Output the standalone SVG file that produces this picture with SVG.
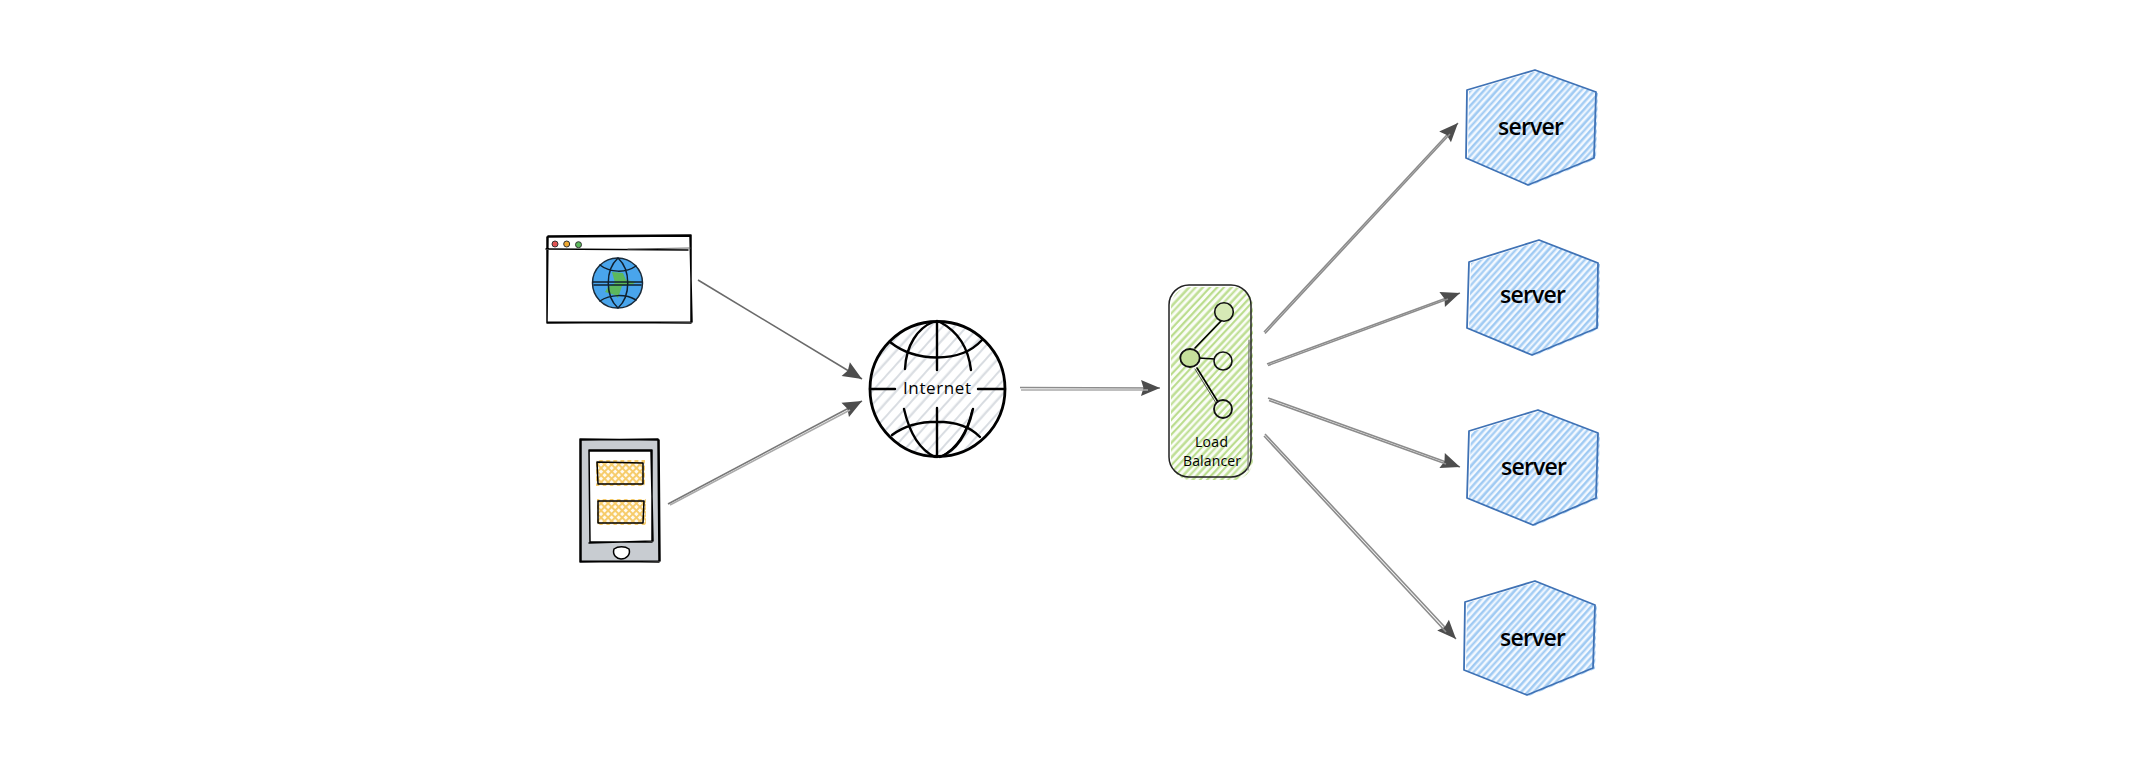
<svg xmlns="http://www.w3.org/2000/svg" width="2136" height="758" viewBox="0 0 2136 758">
<defs>
<pattern id="hBlue" width="40" height="29" patternUnits="userSpaceOnUse" patternTransform="rotate(-48)"><rect width="40" height="29" fill="#f4f9ff"/><g fill="#9fcaf3"><rect y="0" width="40" height="2.5"/><rect y="4.6" width="40" height="2.1"/><rect y="9.4" width="40" height="2.7"/><rect y="14.4" width="40" height="2.1"/><rect y="19" width="40" height="2.5"/><rect y="24.2" width="40" height="2.3"/></g></pattern>
<pattern id="hGreen" width="40" height="31" patternUnits="userSpaceOnUse" patternTransform="rotate(-47)"><rect width="40" height="31" fill="#fbfdf7"/><g fill="#bbdd8e"><rect y="0" width="40" height="2.3"/><rect y="5" width="40" height="2.1"/><rect y="10.4" width="40" height="2.4"/><rect y="15.4" width="40" height="2"/><rect y="20.4" width="40" height="2.4"/><rect y="25.8" width="40" height="2.2"/></g></pattern>
<pattern id="hGray" width="40" height="27" patternUnits="userSpaceOnUse" patternTransform="rotate(-48)"><rect width="40" height="27" fill="#fff"/><g fill="#d8dce1"><rect y="0" width="40" height="2"/><rect y="8.6" width="40" height="2.2"/><rect y="18" width="40" height="1.9"/></g></pattern>
<pattern id="hOrange" width="5" height="5" patternUnits="userSpaceOnUse" patternTransform="rotate(45)"><rect width="5" height="5" fill="#fffaf0"/><rect width="5" height="1.9" fill="#f6cb68"/><rect width="1.9" height="5" fill="#f6cb68"/></pattern>
<marker id="ah" viewBox="0 0 20 18" refX="20" refY="9" markerWidth="20" markerHeight="18" markerUnits="userSpaceOnUse" orient="auto"><path d="M20 9 L1 1 L3.5 9 L1 17 Z" fill="#4d4d4d"/></marker>
</defs>
<style>
.ln{fill:none;stroke:#000;stroke-linecap:round;stroke-linejoin:round}
.hf{fill:url(#hBlue)}
.hex{fill:none;stroke:#3f72b5;stroke-width:1.8;stroke-linejoin:round}
.t{font-family:"Open Sans","Noto Sans",sans-serif;fill:#000;text-anchor:middle}
.srv{font-size:23px;font-weight:600}
.con{fill:none;stroke:#8c8c8c;stroke-width:1.6}
.end{marker-end:url(#ah)}
</style>
<g id="connectors">
<path class="con end" style="stroke:#6a6a6a;stroke-width:1.6" d="M698 280 L862 379"/>
<path class="con end" style="stroke:#777" d="M668 504 L862 401"/>
<path class="con" style="stroke:#aaa" d="M670 505 L850 410"/>
<path class="con end" d="M1020 387.5 L1160 388"/>
<path class="con" style="stroke:#aaa" d="M1021 390 L1148 390"/>
<path class="con end" d="M1264 332 L1458 123"/>
<path class="con" d="M1265 333.5 L1450 134"/>
<path class="con end" d="M1267 364 L1460 293"/>
<path class="con" d="M1268 365.5 L1448 299"/>
<path class="con end" d="M1268 398 L1460 467"/>
<path class="con" d="M1269 400.5 L1446 464"/>
<path class="con end" d="M1265 434 L1456 639"/>
<path class="con" d="M1264 436 L1446 632"/>
</g>
<g id="browser">
<path class="ln" stroke-width="1.5" d="M548 236 L691 235 L691 323 L547 322 Z M547 237 L690 236 L692 322 L547 323 Z M546 249 L688 250"/>
<path class="ln" style="stroke:#666" stroke-width="1.2" d="M628 249 L690 248"/>
<circle cx="555" cy="244" r="3" fill="#e05252" stroke="#333"/>
<circle cx="566.7" cy="244" r="3" fill="#f0a830" stroke="#333"/>
<circle cx="578.5" cy="244.7" r="3" fill="#5cb85c" stroke="#333"/>
<circle cx="617.5" cy="283" r="25" fill="#49a5ec"/>
<path d="M612 272 L623 273 L626 280 L636 282 L633 284 L622 286 L618 298 L615 295 L605 292 L608 287 L615 283 Z" fill="#5cb85c"/>
<circle class="ln" style="stroke:#1a2b3a" stroke-width="1.5" cx="617.5" cy="283" r="25"/>
<path class="ln" style="stroke:#10202e" stroke-width="1.5" d="M618 258 C605 270 605 296 618 308 C631 296 631 270 618 258 M593 282 L642 282 M594 285 L641 285 M600 265 C610 273 626 273 636 266 M600 301 C610 294 626 294 636 300"/>
</g>
<g id="tablet">
<rect x="580" y="439" width="79" height="123" fill="#c8ccd1"/>
<rect x="590" y="450" width="62" height="92" fill="#fff"/>
<path class="ln" stroke-width="1.5" d="M580 439 L659 440 L660 561 L580 562 Z M581 440 L658 439 L659 562 L581 561 Z M589 450 L652 450 L652 542 L590 542 Z M590 451 L651 451 L653 541 L589 543"/>
<rect x="596" y="460" width="49" height="26" fill="url(#hOrange)"/>
<rect x="597" y="499" width="49" height="26" fill="url(#hOrange)"/>
<path class="ln" stroke-width="1.5" d="M597 462 L643 463 L643 484 L598 484 Z M598 501 L644 501 L643 523 L598 523 Z"/>
<path d="M614 549 C618 546 625 546 629 549 C631 555 626 559 621 559 C617 559 612 555 614 549 Z" fill="#fff" stroke="#000" stroke-width="1.5"/>
</g>
<g id="internet">
<circle cx="938" cy="390" r="68" fill="url(#hGray)"/>
<circle class="ln" stroke-width="2.8" cx="937.5" cy="389" r="67.5"/>
<path class="ln" stroke-width="2.4" d="M937 321 L937 370 M937 408 L937 457 M870 389 L895 389 M978 389 L1005 389 M890 342 C915 362 960 364 982 340 M892 435 C915 418 960 416 980 437 M905 369 C906 345 918 328 933 322 M971 370 C968 345 955 330 940 322 M904 409 C910 435 920 450 935 457 M973 409 C968 432 958 450 940 457"/>
<path class="ln" stroke-width="1.4" d="M972 410 C967 432 956 448 942 456"/>
<text class="t" x="937" y="394" font-size="17" textLength="68" lengthAdjust="spacing">Internet</text>
</g>
<g id="loadbalancer">
<rect x="1171" y="287" width="82" height="193" rx="20" fill="url(#hGreen)"/>
<rect x="1169" y="285" width="82" height="192" rx="20" fill="none" stroke="#222" stroke-width="1.5"/>
<path class="ln" style="stroke:#777" stroke-width="1.2" d="M1249 340 L1248 470"/>
<path class="ln" stroke-width="1.6" d="M1195 348 L1222 320 M1198 358 L1215 359 M1197 368 L1218 402"/>
<path class="ln" style="stroke:#555" stroke-width="1" d="M1195 369 L1216 403"/>
<circle cx="1224" cy="312" r="9.3" fill="#d6e9b6" stroke="#111" stroke-width="1.6"/>
<ellipse cx="1190" cy="358" rx="9.7" ry="9" fill="#c6e09c" stroke="#111" stroke-width="1.8"/>
<circle cx="1223" cy="361" r="9" fill="url(#hGreen)" stroke="#111" stroke-width="1.6"/>
<circle cx="1223" cy="409" r="9" fill="url(#hGreen)" stroke="#111" stroke-width="1.8"/>
<text class="t" x="1211.5" y="447" font-size="14" textLength="33" lengthAdjust="spacing">Load</text>
<text class="t" x="1212" y="466" font-size="14" textLength="58" lengthAdjust="spacing">Balancer</text>
</g>
<g id="server1"><path class="hf" transform="translate(2 1)" d="M1467 90 L1535 70 L1596 92 L1594 158 L1528 185 L1466 158 Z"/><path class="hex" d="M1467 90 L1535 70 L1596 92 L1594 158 L1528 185 L1466 158 Z"/><text class="t srv" x="1531" y="135" textLength="66" lengthAdjust="spacing">server</text></g>
<g id="server2"><path class="hf" transform="translate(2 1)" d="M1469 262 L1539 240 L1598 263 L1597 328 L1532 355 L1467 328 Z"/><path class="hex" d="M1469 262 L1539 240 L1598 263 L1597 328 L1532 355 L1467 328 Z"/><text class="t srv" x="1533" y="303" textLength="66" lengthAdjust="spacing">server</text></g>
<g id="server3"><path class="hf" transform="translate(2 1)" d="M1469 431 L1538 410 L1598 433 L1596 498 L1533 525 L1467 498 Z"/><path class="hex" d="M1469 431 L1538 410 L1598 433 L1596 498 L1533 525 L1467 498 Z"/><text class="t srv" x="1534" y="475" textLength="66" lengthAdjust="spacing">server</text></g>
<g id="server4"><path class="hf" transform="translate(2 1)" d="M1465 602 L1535 581 L1595 605 L1593 668 L1527 695 L1464 670 Z"/><path class="hex" d="M1465 602 L1535 581 L1595 605 L1593 668 L1527 695 L1464 670 Z"/><text class="t srv" x="1533" y="646" textLength="66" lengthAdjust="spacing">server</text></g>
</svg>
